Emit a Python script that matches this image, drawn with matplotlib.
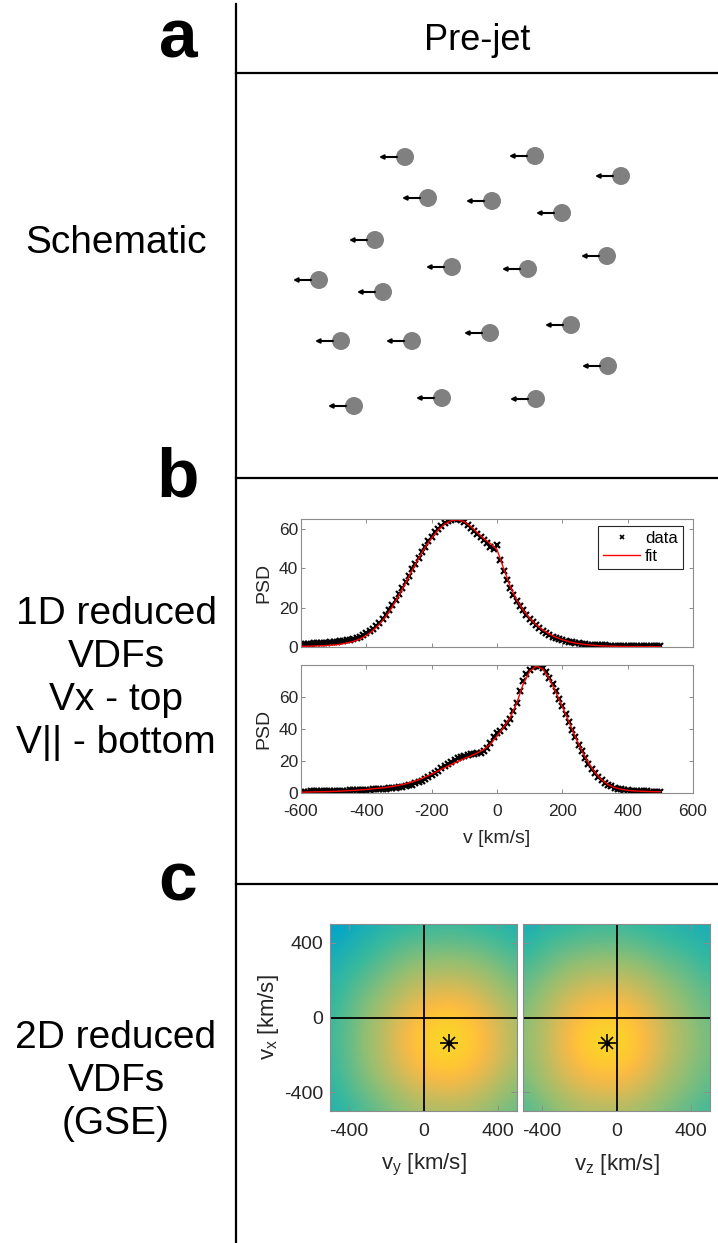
import numpy as np
import matplotlib
matplotlib.use("Agg")
import matplotlib.pyplot as plt
from matplotlib.colors import LinearSegmentedColormap

W, H = 718, 1243

# --- panel a: schematic particles (figure pixel positions)
part_x = [405, 535, 621, 428, 492, 562, 375, 607, 452, 528,
          319, 383, 571, 341, 412, 490, 608, 442, 536, 354]
part_y = [157, 156, 176, 198, 201, 213, 240, 256, 267, 269,
          280, 292, 325, 341, 341, 333, 366, 398, 399, 406]

# --- panel b: 1D reduced VDFs
v_data = np.arange(-600, 501, 10)
psd_vx_data = [
    1.4, 1.5, 1.6, 1.7, 1.8, 1.9, 2.0, 2.1, 2.2, 2.4,
    2.5, 2.7, 2.9, 3.1, 3.4, 3.7, 4.1, 4.6, 5.3, 6.1,
    7.0, 8.0, 9.2, 10.6, 12.2, 14.0, 16.2, 18.6, 21.2, 24.0,
    27.0, 30.1, 33.2, 36.3, 39.4, 42.4, 45.3, 48.2, 51.0, 53.7,
    56.0, 58.2, 60.0, 61.6, 63.0, 64.0, 64.6, 65.0, 64.9, 64.3,
    63.3, 62.0, 60.5, 59.0, 57.4, 55.8, 54.2, 52.6, 51.0, 50.0,
    51.8, 44.0, 38.5, 34.0, 30.0, 26.5, 23.5, 21.0, 18.6, 16.4,
    14.4, 12.6, 11.0, 9.6, 8.3, 7.2, 6.2, 5.3, 4.6, 4.0,
    3.5, 3.0, 2.6, 2.3, 2.0, 1.8, 1.6, 1.4, 1.25, 1.1,
    1.0, 0.92, 0.85, 0.8, 0.75, 0.7, 0.65, 0.6, 0.56, 0.53,
    0.5, 0.48, 0.46, 0.44, 0.42, 0.4, 0.39, 0.38, 0.37, 0.36, 0.35]
psd_vpar_data = [
    0.8, 0.85, 0.9, 0.95, 1.0, 1.05, 1.1, 1.15, 1.2, 1.25,
    1.3, 1.35, 1.4, 1.5, 1.55, 1.6, 1.7, 1.8, 1.85, 1.9,
    2.0, 2.1, 2.2, 2.35, 2.5, 2.65, 2.8, 3.0, 3.2, 3.4,
    3.6, 3.9, 4.3, 4.7, 5.3, 6.0, 6.8, 7.7, 8.8, 9.9,
    11.2, 12.6, 14.0, 15.4, 16.9, 18.3, 19.6, 20.7, 21.6, 22.4,
    23.1, 23.7, 24.2, 24.5, 24.8, 25.3, 26.3, 28.2, 31.3, 34.8,
    37.2, 39.0, 41.2, 43.5, 46.5, 51.0, 56.0, 64.0, 70.0, 74.5,
    77.0, 79.0, 79.5, 79.2, 78.0, 75.5, 72.0, 68.0, 63.5, 59.0,
    54.5, 49.5, 44.5, 39.5, 34.8, 30.3, 26.0, 22.0, 18.4, 15.2,
    12.4, 10.0, 8.0, 6.4, 5.1, 4.1, 3.3, 2.7, 2.2, 1.9,
    1.6, 1.4, 1.3, 1.2, 1.1, 1.0, 0.95, 0.9, 0.85, 0.8, 0.8]

v_fit = np.arange(-600, 501, 20)
psd_vx_fit = [
    0.3, 0.4, 0.5, 0.6, 0.8, 1.0, 1.4, 2.0, 2.8, 4.0,
    5.8, 8.3, 11.5, 15.5, 20.5, 26.3, 32.4, 38.8, 45.0, 50.6,
    55.3, 59.4, 62.4, 64.2, 64.6, 63.6, 61.2, 58.0, 55.0, 52.5,
    49.5, 40.0, 31.0, 24.0, 18.8, 14.6, 11.3, 8.7, 6.6, 5.0,
    3.7, 2.7, 2.0, 1.5, 1.1, 0.8, 0.6, 0.45, 0.35, 0.3,
    0.25, 0.2, 0.2, 0.15, 0.15, 0.1]
psd_vpar_fit = [
    0.5, 0.6, 0.7, 0.8, 0.9, 1.0, 1.2, 1.4, 1.6, 1.9,
    2.2, 2.6, 3.0, 3.5, 4.1, 4.8, 5.7, 6.9, 8.3, 10.0,
    11.8, 13.8, 15.8, 17.8, 19.7, 21.5, 23.2, 25.0, 27.3, 30.6,
    35.5, 41.0, 47.0, 56.0, 68.0, 76.0, 79.3, 77.5, 71.5, 63.0,
    54.0, 44.5, 35.0, 26.3, 18.8, 12.8, 8.3, 5.3, 3.4, 2.3,
    1.7, 1.3, 1.1, 0.95, 0.85, 0.8]

# --- panel c: 2D reduced VDFs (colour level), rows vx = 500 .. -500, cols -500 .. 500
v2d = [-500, -375, -250, -125, 0, 125, 250, 375, 500]
vdf_xy = [
    [0.34, 0.40, 0.45, 0.48, 0.50, 0.51, 0.50, 0.48, 0.45],
    [0.40, 0.46, 0.51, 0.56, 0.58, 0.59, 0.58, 0.56, 0.51],
    [0.45, 0.51, 0.57, 0.62, 0.67, 0.68, 0.67, 0.62, 0.57],
    [0.48, 0.56, 0.62, 0.70, 0.77, 0.80, 0.77, 0.70, 0.62],
    [0.50, 0.58, 0.67, 0.77, 0.86, 0.89, 0.86, 0.77, 0.67],
    [0.51, 0.59, 0.68, 0.80, 0.89, 0.93, 0.89, 0.80, 0.68],
    [0.50, 0.58, 0.67, 0.77, 0.86, 0.89, 0.86, 0.77, 0.67],
    [0.48, 0.56, 0.62, 0.70, 0.77, 0.80, 0.77, 0.70, 0.62],
    [0.45, 0.51, 0.57, 0.62, 0.67, 0.68, 0.67, 0.62, 0.57]]
vdf_xz = [
    [0.42, 0.47, 0.49, 0.51, 0.51, 0.50, 0.47, 0.45, 0.42],
    [0.48, 0.54, 0.57, 0.59, 0.59, 0.57, 0.54, 0.51, 0.47],
    [0.54, 0.59, 0.65, 0.68, 0.68, 0.66, 0.60, 0.57, 0.51],
    [0.58, 0.66, 0.74, 0.79, 0.80, 0.75, 0.67, 0.61, 0.56],
    [0.61, 0.70, 0.81, 0.87, 0.88, 0.83, 0.72, 0.64, 0.58],
    [0.62, 0.72, 0.84, 0.92, 0.93, 0.86, 0.75, 0.66, 0.59],
    [0.61, 0.70, 0.81, 0.87, 0.88, 0.83, 0.72, 0.64, 0.58],
    [0.58, 0.66, 0.74, 0.79, 0.80, 0.75, 0.67, 0.61, 0.56],
    [0.54, 0.59, 0.65, 0.68, 0.68, 0.66, 0.60, 0.57, 0.51]]
peak_xy = (137, -138)
peak_xz = (-52, -138)

# parula-like colormap
parula_pts = [
    (0 / 63, (0.2081, 0.1663, 0.5292)),
    (8 / 63, (0.0117, 0.3875, 0.8820)),
    (16 / 63, (0.0793, 0.5200, 0.8312)),
    (24 / 63, (0.0228, 0.6535, 0.7768)),
    (32 / 63, (0.2178, 0.7250, 0.6193)),
    (40 / 63, (0.5709, 0.7485, 0.4494)),
    (48 / 63, (0.8507, 0.7299, 0.3360)),
    (52 / 63, (0.9739, 0.7314, 0.2666)),
    (54 / 63, (0.9990, 0.7653, 0.2164)),
    (56 / 63, (0.9880, 0.8066, 0.1794)),
    (60 / 63, (0.9589, 0.8949, 0.1132)),
    (63 / 63, (0.9763, 0.9831, 0.0538))]
parula = LinearSegmentedColormap.from_list("parula", parula_pts)

plt.rcParams['font.family'] = ['Liberation Sans', 'DejaVu Sans']
plt.rcParams['mathtext.default'] = 'regular'
plt.rcParams['axes.unicode_minus'] = False
narrow = ['Liberation Sans Narrow', 'Liberation Sans']
AX_GRAY = '#8c8c8c'
TXT = '#262626'

fig = plt.figure(figsize=(W / 100, H / 100), dpi=100)


def box(x0, y0, x1, y1):
    return [x0 / W, 1 - y1 / H, (x1 - x0) / W, (y1 - y0) / H]


def matlab_style(ax, size, pad_x, pad_y, length=3):
    for s in ax.spines.values():
        s.set_color(AX_GRAY)
        s.set_linewidth(0.8)
    ax.tick_params(direction='in', top=True, right=True, length=length, width=0.7,
                   color=AX_GRAY, labelcolor=TXT, labelsize=size)
    ax.tick_params(axis='x', pad=pad_x)
    ax.tick_params(axis='y', pad=pad_y)


# background layer: frame lines, labels, schematic
bg = fig.add_axes([0, 0, 1, 1])
bg.set_xlim(0, W)
bg.set_ylim(H, 0)
bg.axis('off')
bg.plot([236, 236], [4, H], color='k', lw=1.6)
for yl in (73, 478, 884):
    bg.plot([236, W], [yl, yl], color='k', lw=1.6)

for lab, yb in zip('abc', (57, 496, 900)):
    bg.text(178, yb, lab, fontsize=50, fontweight='bold', family=narrow,
            ha='center', va='baseline')
bg.text(477, 40, 'Pre-jet', fontsize=26, family=narrow, ha='center', va='center')
bg.text(116, 243, 'Schematic', fontsize=28, ha='center', va='center')
bg.text(116, 678, '1D reduced\nVDFs\nVx - top\nV|| - bottom', fontsize=28,
        ha='center', va='center', linespacing=1.25)
bg.text(116, 1081, '2D reduced\nVDFs\n(GSE)', fontsize=28,
        ha='center', va='center', linespacing=1.25)

bg.scatter(part_x, part_y, s=168, c='#808080', edgecolors='none', zorder=3)
for px, py in zip(part_x, part_y):
    bg.annotate('', xy=(px - 26, py), xytext=(px - 8, py),
                arrowprops=dict(arrowstyle='-|>', color='k', lw=1.5,
                                mutation_scale=6, shrinkA=0, shrinkB=0))

# 1D VDFs
ax1 = fig.add_axes(box(301, 519, 693, 647))
ax1.plot(v_data, psd_vx_data, 'x', color='k', ms=4.5, mew=1.6, label='data')
ax1.plot(v_fit, psd_vx_fit, '-', color='r', lw=1.0, label='fit')
ax1.set_xlim(-600, 600)
ax1.set_ylim(0, 65)
ax1.set_xticks(range(-600, 601, 200))
ax1.set_yticks([0, 20, 40, 60])
matlab_style(ax1, 12.5, 8, 2)
ax1.tick_params(axis='x', labelbottom=False)
ax1.set_ylabel('PSD', fontsize=14, color=TXT, labelpad=5)
leg = ax1.legend(loc='upper right', bbox_to_anchor=(0.974, 0.945), borderaxespad=0,
                 fancybox=False, framealpha=1, edgecolor=TXT, fontsize=12,
                 numpoints=1, handlelength=2.2, handletextpad=0.3,
                 labelspacing=0.15, borderpad=0.3)
leg.get_frame().set_linewidth(0.8)
leg.legend_handles[0].set_markersize(3.5)
leg.legend_handles[0].set_markeredgewidth(1.2)

ax2 = fig.add_axes(box(301, 665, 693, 793))
ax2.plot(v_data, psd_vpar_data, 'x', color='k', ms=4.5, mew=1.6)
ax2.plot(v_fit, psd_vpar_fit, '-', color='r', lw=1.0)
ax2.set_xlim(-600, 600)
ax2.set_ylim(0, 80)
ax2.set_xticks(range(-600, 601, 200))
ax2.set_yticks([0, 20, 40, 60])
matlab_style(ax2, 12.5, 8, 2)
ax2.set_ylabel('PSD', fontsize=14, color=TXT, labelpad=5)
ax2.set_xlabel('v [km/s]', fontsize=14, color=TXT, labelpad=8)

# 2D VDFs
half = (v2d[1] - v2d[0]) / 2
ext = [v2d[0] - half, v2d[-1] + half, v2d[0] - half, v2d[-1] + half]
panels = [(box(330, 924, 517, 1111), vdf_xy, peak_xy, '$v_y$ [km/s]', True),
          (box(523, 924, 710, 1111), vdf_xz, peak_xz, '$v_z$ [km/s]', False)]
for rect, grid, peak, xlab, left in panels:
    ax = fig.add_axes(rect)
    ax.imshow(np.array(grid), extent=ext, origin='upper', cmap=parula,
              vmin=0, vmax=1, interpolation='bicubic', aspect='auto')
    ax.set_xlim(-500, 500)
    ax.set_ylim(-500, 500)
    ax.axhline(0, color='k', lw=1.3)
    ax.axvline(0, color='k', lw=1.3)
    ax.plot(peak[0], peak[1], marker='+', ms=13, mew=1.2, color='k')
    ax.plot(peak[0], peak[1], marker='x', ms=9, mew=1.2, color='k')
    ax.plot(peak[0], peak[1], marker='o', ms=3, color='k')
    ax.set_xticks([-400, 0, 400])
    ax.set_yticks([-400, 0, 400])
    matlab_style(ax, 14, 9, 5, length=4)
    ax.set_xlabel(xlab, fontsize=16, color=TXT, labelpad=8)
    if left:
        ax.set_ylabel('$v_x$ [km/s]', fontsize=16, color=TXT, labelpad=2)
    else:
        ax.tick_params(axis='y', labelleft=False)

fig.savefig('out.png', dpi=100)
